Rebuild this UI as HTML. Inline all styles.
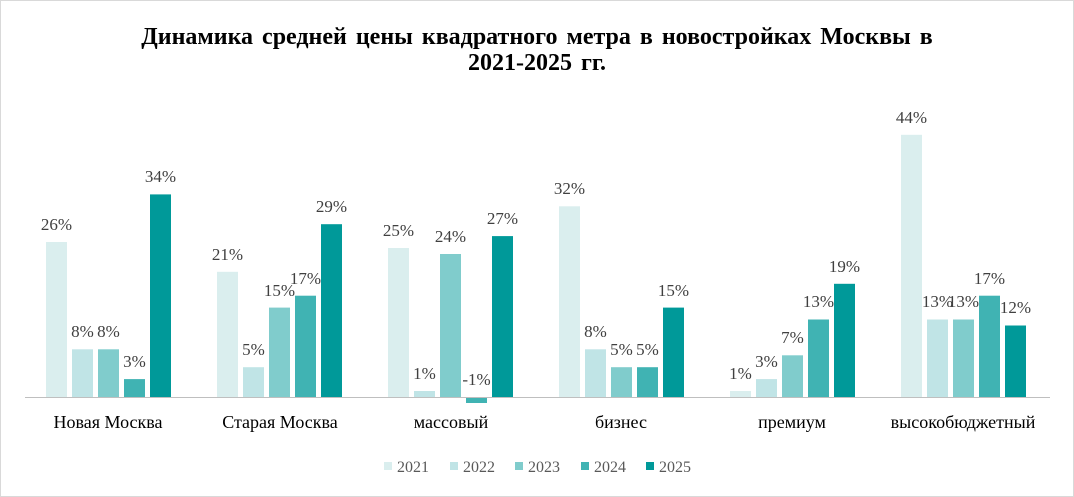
<!DOCTYPE html>
<html><head><meta charset="utf-8"><style>
body{margin:0;background:#fff}
svg{display:block}
.t{font-family:"Liberation Serif",serif;font-weight:bold;font-size:24px;fill:#000;word-spacing:3px}
.v{font-family:"Liberation Serif",serif;font-size:17px;fill:#404040}
.c{font-family:"Liberation Serif",serif;font-size:18px;fill:#000}
.l{font-family:"Liberation Serif",serif;font-size:16px;fill:#595959}
</style></head><body>
<svg width="1074" height="497" viewBox="0 0 1074 497">
<rect x="0.5" y="0.5" width="1073" height="496" fill="#fff" stroke="#d9d9d9"/>
<text class="t" x="537" y="44" text-anchor="middle">Динамика  средней цены квадратного  метра  в новостройках  Москвы в</text>
<text class="t" x="537" y="70" text-anchor="middle">2021-2025 гг.</text>
<g>
<rect x="46" y="242" width="21" height="155" fill="#daeeee"/>
<rect x="72" y="349.3" width="21" height="47.7" fill="#c0e4e6"/>
<rect x="98" y="349.3" width="21" height="47.7" fill="#80cccc"/>
<rect x="124" y="379.1" width="21" height="17.9" fill="#40b3b3"/>
<rect x="150" y="194.4" width="21" height="202.6" fill="#009999"/>

<rect x="217" y="271.8" width="21" height="125.2" fill="#daeeee"/>
<rect x="243" y="367.2" width="21" height="29.8" fill="#c0e4e6"/>
<rect x="269" y="307.6" width="21" height="89.4" fill="#80cccc"/>
<rect x="295" y="295.7" width="21" height="101.3" fill="#40b3b3"/>
<rect x="321" y="224.2" width="21" height="172.8" fill="#009999"/>

<rect x="388" y="248" width="21" height="149" fill="#daeeee"/>
<rect x="414" y="391" width="21" height="6" fill="#c0e4e6"/>
<rect x="440" y="254" width="21" height="143" fill="#80cccc"/>
<rect x="466" y="397" width="21" height="6" fill="#40b3b3"/>
<rect x="492" y="236.1" width="21" height="160.9" fill="#009999"/>

<rect x="559" y="206.3" width="21" height="190.7" fill="#daeeee"/>
<rect x="585" y="349.3" width="21" height="47.7" fill="#c0e4e6"/>
<rect x="611" y="367.2" width="21" height="29.8" fill="#80cccc"/>
<rect x="637" y="367.2" width="21" height="29.8" fill="#40b3b3"/>
<rect x="663" y="307.6" width="21" height="89.4" fill="#009999"/>

<rect x="730" y="391" width="21" height="6" fill="#daeeee"/>
<rect x="756" y="379.1" width="21" height="17.9" fill="#c0e4e6"/>
<rect x="782" y="355.3" width="21" height="41.7" fill="#80cccc"/>
<rect x="808" y="319.5" width="21" height="77.5" fill="#40b3b3"/>
<rect x="834" y="283.8" width="21" height="113.2" fill="#009999"/>

<rect x="901" y="134.8" width="21" height="262.2" fill="#daeeee"/>
<rect x="927" y="319.5" width="21" height="77.5" fill="#c0e4e6"/>
<rect x="953" y="319.5" width="21" height="77.5" fill="#80cccc"/>
<rect x="979" y="295.7" width="21" height="101.3" fill="#40b3b3"/>
<rect x="1005" y="325.5" width="21" height="71.5" fill="#009999"/>
</g>
<line x1="25" y1="397.5" x2="1050" y2="397.5" stroke="#bfbfbf" stroke-width="1"/>
<g class="v" text-anchor="middle">
<text x="56.5" y="230">26%</text><text x="82.5" y="337">8%</text><text x="108.5" y="337">8%</text><text x="134.5" y="367">3%</text><text x="160.5" y="182">34%</text>
<text x="227.5" y="260">21%</text><text x="253.5" y="355">5%</text><text x="279.5" y="296">15%</text><text x="305.5" y="284">17%</text><text x="331.5" y="212">29%</text>
<text x="398.5" y="236">25%</text><text x="424.5" y="379">1%</text><text x="450.5" y="242">24%</text><text x="476.5" y="385">-1%</text><text x="502.5" y="224">27%</text>
<text x="569.5" y="194">32%</text><text x="595.5" y="337">8%</text><text x="621.5" y="355">5%</text><text x="647.5" y="355">5%</text><text x="673.5" y="296">15%</text>
<text x="740.5" y="379">1%</text><text x="766.5" y="367">3%</text><text x="792.5" y="343">7%</text><text x="818.5" y="307">13%</text><text x="844.5" y="272">19%</text>
<text x="911.5" y="123">44%</text><text x="937.5" y="307">13%</text><text x="963.5" y="307">13%</text><text x="989.5" y="284">17%</text><text x="1015.5" y="313">12%</text>
</g>
<g class="c" text-anchor="middle">
<text x="108" y="428">Новая Москва</text>
<text x="280" y="428">Старая Москва</text>
<text x="451" y="428">массовый</text>
<text x="621" y="428">бизнес</text>
<text x="792" y="428">премиум</text>
<text x="963" y="428">высокобюджетный</text>
</g>
<g>
<rect x="384" y="462" width="8" height="8" fill="#daeeee"/><text class="l" x="397" y="472">2021</text>
<rect x="450" y="462" width="8" height="8" fill="#c0e4e6"/><text class="l" x="463" y="472">2022</text>
<rect x="515" y="462" width="8" height="8" fill="#80cccc"/><text class="l" x="528" y="472">2023</text>
<rect x="581" y="462" width="8" height="8" fill="#40b3b3"/><text class="l" x="594" y="472">2024</text>
<rect x="646" y="462" width="8" height="8" fill="#009999"/><text class="l" x="659" y="472">2025</text>
</g>
</svg>
</body></html>
